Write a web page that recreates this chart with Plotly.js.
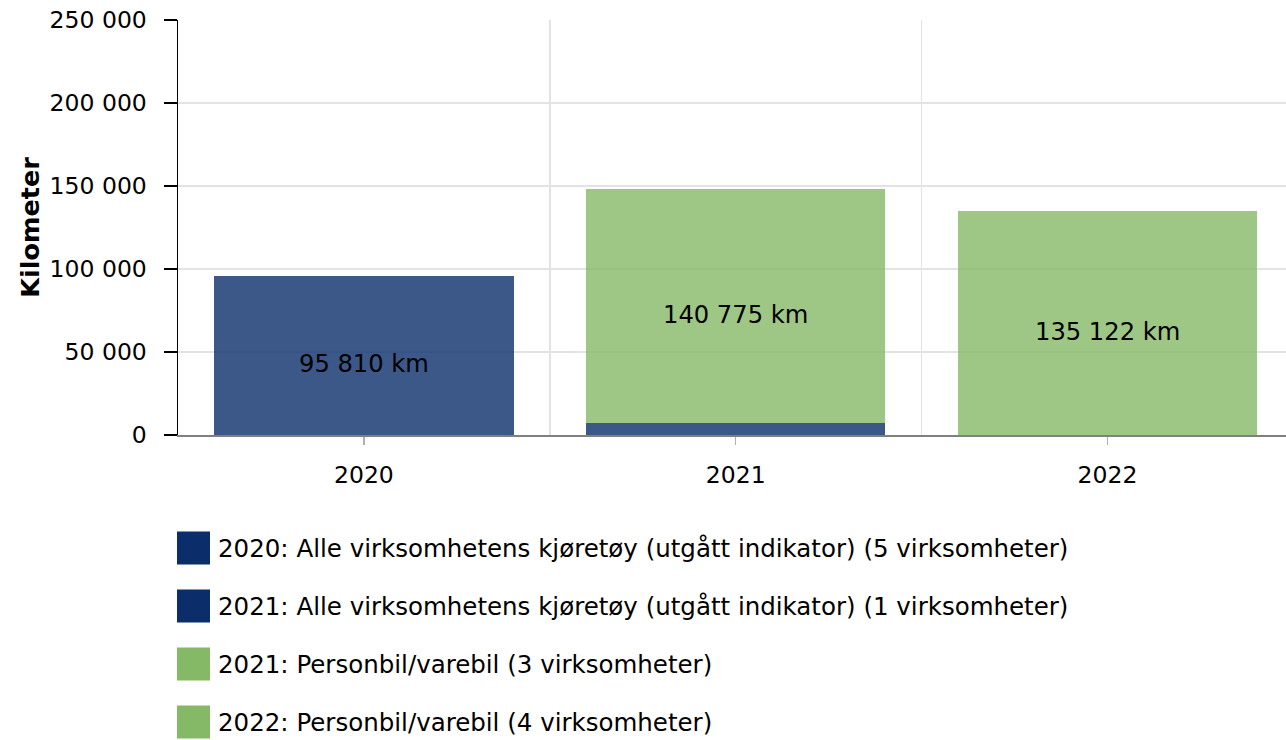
<!DOCTYPE html>
<html>
<head>
<meta charset="utf-8">
<script src="https://cdn.plot.ly/plotly-3.0.1.min.js"></script>
<style>html,body{margin:0;padding:0;background:#fff;}#chart{width:1286px;height:740px;}</style>
</head>
<body>
<div id="chart"></div>
<script>
const years = ["2020", "2021", "2022"];
const allVehicles2020 = [95810, 0, 0];
const allVehicles2021 = [0, 7200, 0];
const carVan2021 = [0, 140775, 0];
const carVan2022 = [0, 0, 135122];
const seriesNames = [
  "2020: Alle virksomhetens kjøretøy (utgått indikator) (5 virksomheter)",
  "2021: Alle virksomhetens kjøretøy (utgått indikator) (1 virksomheter)",
  "2021: Personbil/varebil (3 virksomheter)",
  "2022: Personbil/varebil (4 virksomheter)"
];
const labelled = [true, false, true, true];
const yTicks = [0, 50000, 100000, 150000, 200000, 250000];

const navy = "rgb(11,46,107)";
const green = "rgb(134,185,102)";
const colors = [navy, navy, green, green];
const seriesVals = [allVehicles2020, allVehicles2021, carVan2021, carVan2022];
const xs = years.map((_, i) => i);
const FS = 23.5;
const FF = "DejaVu Sans, Verdana, sans-serif";

const fmt = v => String(v).replace(/\B(?=(\d{3})+(?!\d))/g, " ");

const traces = seriesVals.map((vals, s) => ({
  type: "bar",
  x: xs,
  y: vals,
  width: 0.805,
  name: seriesNames[s],
  marker: {color: colors[s], opacity: 0.8, line: {width: 0}},
  hoverinfo: "skip",
  showlegend: false
}));

const annotations = [];
const base = xs.map(() => 0);
seriesVals.forEach((vals, s) => {
  vals.forEach((v, i) => {
    if (v > 0 && labelled[s]) {
      annotations.push({
        x: i, y: base[i] + v / 2, xref: "x", yref: "y",
        text: fmt(v) + " km", showarrow: false, yshift: -9,
        font: {family: FF, size: 24.2, color: "#000"}
      });
    }
    base[i] += v;
  });
});

const L = 178, W = 1108, T = 20, H = 415;
const px2x = px => (px - L) / W;
const px2y = py => (T + H - py) / H;
const shapes = [];
seriesNames.forEach((n, s) => {
  const cy = 548 + s * 58;
  shapes.push({
    type: "rect", xref: "paper", yref: "paper",
    x0: px2x(177), x1: px2x(210), y0: px2y(cy - 16.5), y1: px2y(cy + 16.5),
    fillcolor: colors[s], line: {width: 0}
  });
  annotations.push({
    xref: "paper", yref: "paper", x: px2x(216), y: px2y(cy),
    xanchor: "left", yanchor: "middle", showarrow: false, text: n,
    font: {family: FF, size: 24.5, color: "#000"}
  });
});

const layout = {
  width: 1286, height: 740,
  margin: {l: L, r: 0, t: T, b: 740 - T - H},
  barmode: "stack",
  separators: ", ",
  paper_bgcolor: "#fff", plot_bgcolor: "#fff",
  font: {family: FF, size: FS, color: "#000"},
  showlegend: false,
  xaxis: {
    range: [-0.5, 2.48],
    tickmode: "array", tickvals: xs, ticktext: years,
    showgrid: false, zeroline: false,
    showline: true, linecolor: "#808080", linewidth: 1.5,
    ticks: "outside", ticklen: 8, tickcolor: "#b0b0b0", tickwidth: 1.5,
    ticklabelstandoff: 10,
    tickfont: {family: FF, size: FS, color: "#000"},
    minor: {tickmode: "array", tickvals: [0.5, 1.5], showgrid: true, gridcolor: "#e3e3e3", gridwidth: 1.5, ticks: ""}
  },
  yaxis: {
    range: [0, 250000],
    tickmode: "array", tickvals: yTicks, ticktext: yTicks.map(fmt),
    showgrid: true, gridcolor: "#e3e3e3", gridwidth: 1.5,
    zeroline: false,
    showline: true, linecolor: "#000", linewidth: 1.5,
    ticks: "outside", ticklen: 13, tickcolor: "#000", tickwidth: 1.5,
    ticklabelstandoff: 12,
    tickfont: {family: FF, size: FS, color: "#000"},
    title: {text: "<b>Kilometer</b>", font: {family: FF, size: 25.5, color: "#000"}, standoff: 2}
  },
  shapes: shapes,
  annotations: annotations
};

Plotly.newPlot("chart", traces, layout, {displayModeBar: false, staticPlot: true});
</script>
</body>
</html>
